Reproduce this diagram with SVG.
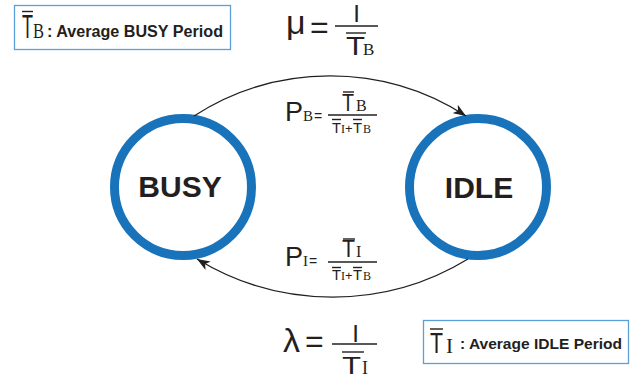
<svg xmlns="http://www.w3.org/2000/svg" width="644" height="379" viewBox="0 0 644 379">
<style>
.sans{font-family:"Liberation Sans",Arial,sans-serif;fill:#231f20}
.serif{font-family:"Liberation Serif","Times New Roman",serif;fill:#231f20}
.bold{font-weight:bold}
.bar{stroke:#231f20;stroke-width:1.4;fill:none}
.legend{fill:#ffffff;stroke:#5b9fd6;stroke-width:1.3}
.state{fill:#ffffff;stroke:#1873ba;stroke-width:9}
.conn{fill:none;stroke:#231f20;stroke-width:1.3}
</style>
<defs>
<marker id="arrow" markerUnits="userSpaceOnUse" markerWidth="14" markerHeight="10" refX="13" refY="5" orient="auto">
<path d="M0,0 L13,5 L0,10 L3.5,5 z" fill="#231f20"/>
</marker>
</defs>
<rect width="644" height="379" fill="#ffffff"/>

<g id="legend-busy">
<rect class="legend" x="14.5" y="5.5" width="216" height="44"/>
<line class="bar" x1="22" y1="11.5" x2="33" y2="11.5"/>
<text class="sans" x="22" y="38" font-size="34" textLength="11" lengthAdjust="spacingAndGlyphs">T</text>
<text class="serif" x="33" y="38" font-size="21" textLength="11" lengthAdjust="spacingAndGlyphs">B</text>
<text class="sans bold" x="47" y="37" font-size="16" textLength="176" lengthAdjust="spacingAndGlyphs">: Average BUSY Period</text>
</g>

<g id="legend-idle">
<rect class="legend" x="423.5" y="320.5" width="205" height="43"/>
<line class="bar" x1="430" y1="329" x2="443" y2="329"/>
<text class="sans" x="430" y="353" font-size="29" textLength="13" lengthAdjust="spacingAndGlyphs">T</text>
<text class="serif" x="446" y="353" font-size="21">I</text>
<text class="sans bold" x="460" y="349" font-size="15.5" textLength="162" lengthAdjust="spacingAndGlyphs">: Average IDLE Period</text>
</g>

<g id="mu-formula">
<text class="sans" x="286" y="34" font-size="34">μ</text>
<text class="sans" x="310" y="38" font-size="32">=</text>
<line class="bar" x1="335" y1="26" x2="378" y2="26"/>
<text class="sans" x="356.5" y="22" font-size="24" text-anchor="middle">I</text>
<line class="bar" x1="346" y1="33" x2="366" y2="33"/>
<text class="sans" x="346" y="55" font-size="25" textLength="19" lengthAdjust="spacingAndGlyphs">T</text>
<text class="serif" x="363" y="55" font-size="17">B</text>
</g>

<g id="lambda-formula">
<text class="sans" x="283" y="352" font-size="34">λ</text>
<text class="sans" x="305" y="352" font-size="32">=</text>
<line class="bar" x1="332" y1="344" x2="377" y2="344"/>
<text class="sans" x="355.5" y="342" font-size="24" text-anchor="middle">I</text>
<line class="bar" x1="342" y1="352" x2="364" y2="352"/>
<text class="sans" x="342" y="374" font-size="24" textLength="19" lengthAdjust="spacingAndGlyphs">T</text>
<text class="serif" x="362" y="374" font-size="18">I</text>
</g>

<g id="pb-formula">
<text class="sans" x="285" y="121" font-size="27">P</text>
<text class="serif" x="303" y="121" font-size="15">B</text>
<text class="sans" x="314" y="121" font-size="14">=</text>
<line class="bar" x1="328" y1="115" x2="377" y2="115"/>
<line class="bar" x1="343" y1="92" x2="354" y2="92"/>
<text class="sans" x="342" y="111" font-size="24" textLength="12" lengthAdjust="spacingAndGlyphs">T</text>
<text class="serif" x="356" y="111" font-size="16">B</text>
<line class="bar" x1="332" y1="119.5" x2="341" y2="119.5"/>
<text class="sans" x="332" y="133" font-size="15" textLength="9" lengthAdjust="spacingAndGlyphs">T</text>
<text class="serif" x="341" y="133" font-size="12">I</text>
<text class="sans" x="345" y="133" font-size="13">+</text>
<line class="bar" x1="353" y1="119.5" x2="362" y2="119.5"/>
<text class="sans" x="353" y="133" font-size="15" textLength="9" lengthAdjust="spacingAndGlyphs">T</text>
<text class="serif" x="363" y="133" font-size="12">B</text>
</g>

<g id="pi-formula">
<text class="sans" x="285" y="266" font-size="27">P</text>
<text class="serif" x="303" y="266" font-size="15">I</text>
<text class="sans" x="309" y="266" font-size="14">=</text>
<line class="bar" x1="328" y1="262" x2="377" y2="262"/>
<line class="bar" x1="343" y1="239" x2="355" y2="239"/>
<text class="sans" x="342" y="257" font-size="24" textLength="13" lengthAdjust="spacingAndGlyphs">T</text>
<text class="serif" x="356" y="257" font-size="16">I</text>
<line class="bar" x1="332" y1="267.5" x2="341" y2="267.5"/>
<text class="sans" x="332" y="280" font-size="15" textLength="9" lengthAdjust="spacingAndGlyphs">T</text>
<text class="serif" x="341" y="280" font-size="12">I</text>
<text class="sans" x="345" y="280" font-size="13">+</text>
<line class="bar" x1="353" y1="267.5" x2="362" y2="267.5"/>
<text class="sans" x="353" y="280" font-size="15" textLength="9" lengthAdjust="spacingAndGlyphs">T</text>
<text class="serif" x="363" y="280" font-size="12">B</text>
</g>

<g id="node-busy">
<circle class="state" cx="183" cy="187" r="68.5"/>
<text class="sans bold" x="180" y="197" font-size="30" text-anchor="middle">BUSY</text>
</g>

<g id="node-idle">
<circle class="state" cx="478" cy="187" r="68.5"/>
<text class="sans bold" x="479" y="198" font-size="30" text-anchor="middle">IDLE</text>
</g>

<g id="connectors">
<path class="conn" d="M194,116 A251,251 0 0 1 466,116" marker-end="url(#arrow)"/>
<path class="conn" d="M468,259 A260,260 0 0 1 197,259" marker-end="url(#arrow)"/>
</g>
</svg>
